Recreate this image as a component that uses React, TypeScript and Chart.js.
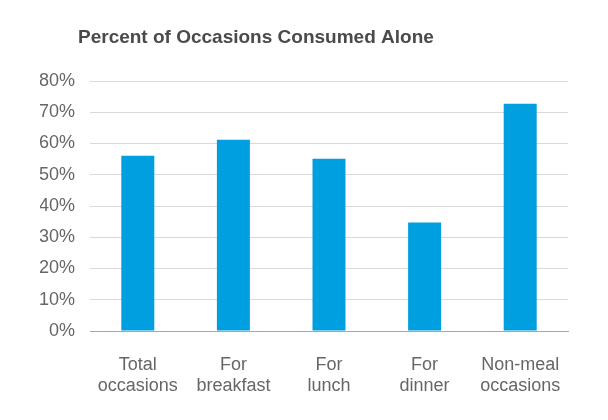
import React, { useEffect, useRef } from "react";
import { Chart, registerables } from "chart.js";

Chart.register(...registerables);

const TITLE = "Percent of Occasions Consumed Alone";
const categories: string[][] = [
  ["Total", "occasions"],
  ["For", "breakfast"],
  ["For", "lunch"],
  ["For", "dinner"],
  ["Non-meal", "occasions"],
];
const values: number[] = [56.1, 61.2, 55.1, 34.7, 72.7];
const yMax = 80;
const yStep = 10;

const FONT = "'Liberation Sans', Arial, sans-serif";

const titlePlugin = {
  id: "leftTitle",
  afterDraw(chart: any) {
    const ctx = chart.ctx;
    ctx.save();
    ctx.font = `bold 19px ${FONT}`;
    ctx.fillStyle = "#4a4a4a";
    ctx.textAlign = "left";
    ctx.textBaseline = "alphabetic";
    ctx.fillText(TITLE, 78, 43);
    ctx.restore();
  },
};

export default function App() {
  const ref = useRef<HTMLCanvasElement | null>(null);
  useEffect(() => {
    if (!ref.current) return;
    const chart = new Chart(ref.current, {
      type: "bar",
      data: {
        labels: categories,
        datasets: [
          {
            data: values,
            backgroundColor: "#009fdf",
            barPercentage: 0.345,
            categoryPercentage: 1,
          },
        ],
      },
      options: {
        animation: false,
        responsive: false,
        maintainAspectRatio: false,
        layout: { padding: { top: 81, left: 40, right: 40, bottom: 22 } },
        plugins: {
          legend: { display: false },
          title: { display: false },
          tooltip: { enabled: false },
        },
        scales: {
          x: {
            grid: { display: false, drawTicks: false },
            border: { display: true, color: "#a6a6a6", width: 1 },
            ticks: {
              color: "#666666",
              font: { family: FONT, size: 18 },
              padding: 23,
              maxRotation: 0,
              autoSkip: false,
            },
            afterFit: (s: any) => {
              s.height = 67;
              s.paddingLeft = 0;
              s.paddingRight = 0;
            },
          },
          y: {
            min: 0,
            max: yMax,
            grid: {
              drawTicks: false,
              color: (c: any) => (c.tick && c.tick.value === 0 ? "#a6a6a6" : "#d9d9d9"),
              lineWidth: 1,
            },
            border: { display: false },
            ticks: {
              stepSize: yStep,
              color: "#666666",
              font: { family: FONT, size: 18 },
              padding: 15,
              callback: (v: any) => `${v}%`,
            },
            afterFit: (s: any) => {
              s.width = 50;
              s.paddingTop = 0;
              s.paddingBottom = 0;
            },
          },
        },
      },
      plugins: [titlePlugin],
    });
    return () => chart.destroy();
  }, []);
  return (
    <div style={{ position: "fixed", left: 0, top: 0, width: 608, height: 420, background: "#fff" }}>
      <canvas ref={ref} width={608} height={420} style={{ width: 608, height: 420 }} />
    </div>
  );
}
